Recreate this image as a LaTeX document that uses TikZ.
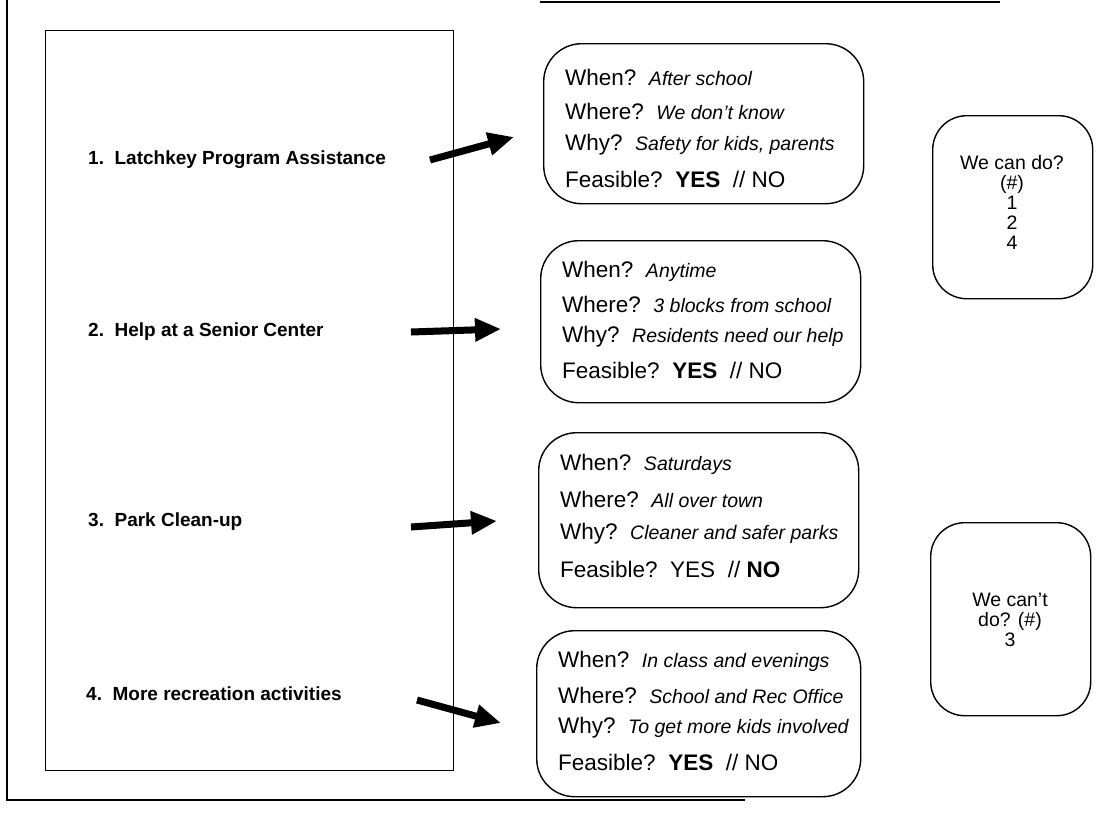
\documentclass[tikz,border=0pt]{standalone}
\usepackage{fontspec}
\setmainfont{Liberation Sans}
\usetikzlibrary{arrows.meta}
\newcommand\ans[1]{{\itshape\fontsize{19.5}{21}\selectfont #1}}
\begin{document}
\begin{tikzpicture}[x=1pt,y=-1pt,
  frameline/.style={line width=1.6pt},
  optbox/.style={draw,line width=1.4pt,rounded corners=38pt,anchor=north west},
  sidebox/.style={draw,line width=1.4pt,rounded corners=34pt,anchor=north west,minimum width=160pt,minimum height=183pt},
  item/.style={anchor=west,inner sep=0pt,font=\fontsize{19}{21}\selectfont\bfseries},
  lbl/.style={anchor=west,inner sep=0pt,font=\fontsize{22.5}{24}\selectfont},
  sidetext/.style={align=center,inner sep=0pt,font=\fontsize{19.5}{20}\selectfont},
  bigarrow/.style={line width=7pt,-{Triangle[length=26pt,width=22pt]}}
]
\useasboundingbox (0,0) rectangle (1101,831);
% outer partial frame
\draw[frameline] (7,0) -- (7,800) -- (745,800);
\draw[frameline] (540,2) -- (1000,2);
% inner list box
\node[draw,line width=1.3pt,anchor=north west,minimum width=408pt,minimum height=740pt,inner sep=0pt] (list) at (45,30) {};
% items
\node[item] (i1) at (88,160) {1.\ \ Latchkey Program Assistance};
\node[item] (i2) at (88,332) {2.\ \ Help at a Senior Center};
\node[item] (i3) at (88,522) {3.\ \ Park Clean-up};
\node[item] (i4) at (86,694) {4.\ \ More recreation activities};
% option boxes
\node[optbox,minimum width=320pt,minimum height=160pt] (b1) at (543,43) {};
\node[optbox,minimum width=320pt,minimum height=162pt] (b2) at (540,240) {};
\node[optbox,minimum width=320pt,minimum height=175pt] (b3) at (538,432) {};
\node[optbox,minimum width=324pt,minimum height=166pt] (b4) at (536,630) {};
% box 1 text
\node[lbl] (b1a) at (565,77) {When?\ \ \ans{After school}};
\node[lbl] (b1b) at (565,111) {Where?\ \ \ans{We don't know}};
\node[lbl] (b1c) at (565,145) {Why?\ \ \ans{Safety for kids, parents}};
\node[lbl] (b1d) at (565,179) {Feasible?\ \ \textbf{YES}\ \ // NO};
% box 2 text
\node[lbl] (b2a) at (562,271) {When?\ \ \ans{Anytime}};
\node[lbl] (b2b) at (562,304) {Where?\ \ \ans{3 blocks from school}};
\node[lbl] (b2c) at (562,337) {Why?\ \ \ans{Residents need our help}};
\node[lbl] (b2d) at (562,370) {Feasible?\ \ \textbf{YES}\ \ // NO};
% box 3 text
\node[lbl] (b3a) at (560,464) {When?\ \ \ans{Saturdays}};
\node[lbl] (b3b) at (560,499) {Where?\ \ \ans{All over town}};
\node[lbl] (b3c) at (560,534) {Why?\ \ \ans{Cleaner and safer parks}};
\node[lbl] (b3d) at (560,569) {Feasible?\ \ YES\ \ // \textbf{NO}};
% box 4 text
\node[lbl] (b4a) at (558,661) {When?\ \ \ans{In class and evenings}};
\node[lbl] (b4b) at (558,695) {Where?\ \ \ans{School and Rec Office}};
\node[lbl] (b4c) at (558,728) {Why?\ \ \ans{To get more kids involved}};
\node[lbl] (b4d) at (558,762) {Feasible?\ \ \textbf{YES}\ \ // NO};
% side boxes
\node[sidebox] (can) at (932,115) {};
\node[sidetext] (cant) at (1012,202) {We can do?\\(\#)\\1\\2\\4};
\node[sidebox,minimum height=193pt] (cannot) at (930,522) {};
\node[sidetext] (cannott) at (1010,620) {We can't\\do? (\#)\\3};
% arrows
\coordinate (a1s) at (430,160);
\coordinate (a1e) at (514,137);
\coordinate (a2s) at (411,332);
\coordinate (a2e) at (501,329);
\coordinate (a3s) at (411,527);
\coordinate (a3e) at (497,521);
\coordinate (a4s) at (417,700);
\coordinate (a4e) at (501,723);
\draw[bigarrow] (a1s) -- (a1e);
\draw[bigarrow] (a2s) -- (a2e);
\draw[bigarrow] (a3s) -- (a3e);
\draw[bigarrow] (a4s) -- (a4e);
\end{tikzpicture}
\end{document}
